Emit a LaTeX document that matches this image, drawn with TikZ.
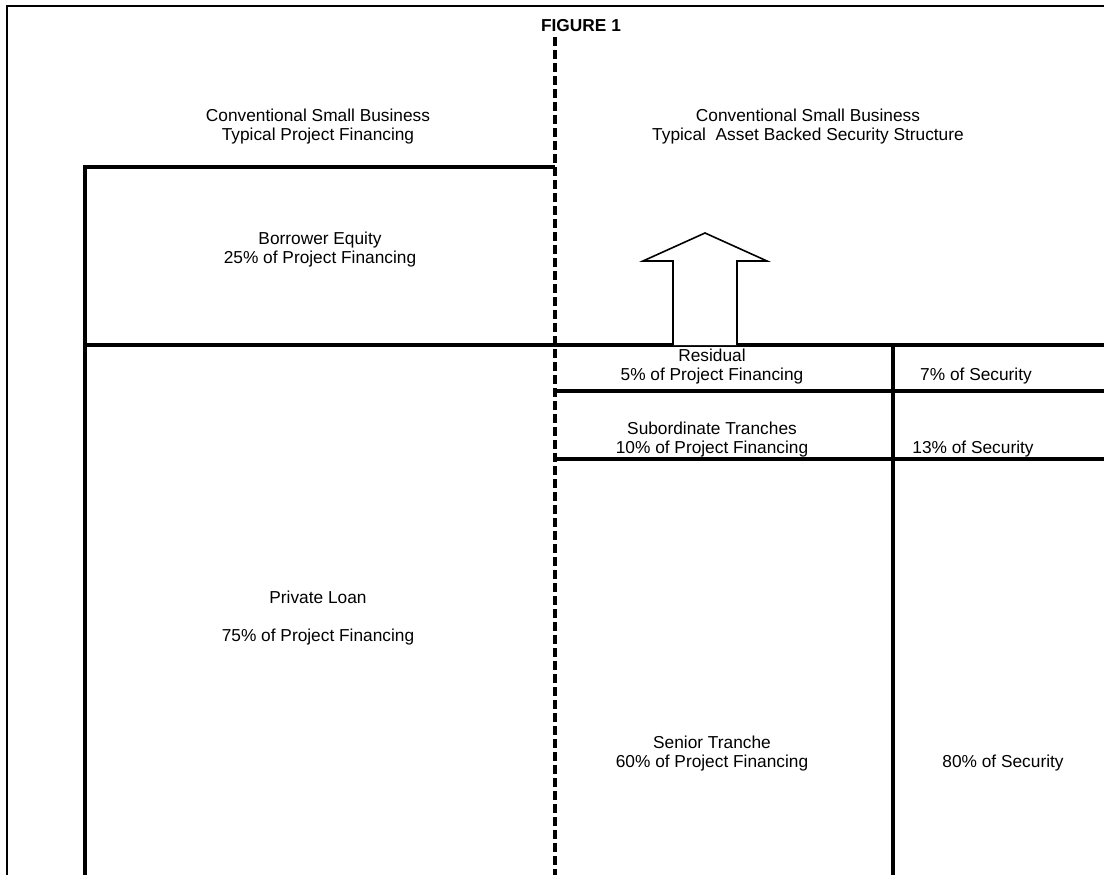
\documentclass[tikz,border=0pt]{standalone}
\usepackage{fontspec}
\setmainfont{Liberation Sans}
\usepackage{tikz}
\usetikzlibrary{positioning}
\tikzset{cell/.style={align=center,inner sep=0pt,font=\fontsize{17.3}{19}\selectfont},rule/.style={draw=black,line width=3.3pt},frame/.style={draw=black,line width=2.2pt}}

\begin{document}
\begin{tikzpicture}[x=1pt,y=-1pt,divider/.style={draw=black,line width=4pt,dash pattern=on 9pt off 4pt},bigarrow/.style={draw=black,line width=1.6pt,fill=white}]
\useasboundingbox (0,0) rectangle (1104,875);
\draw[frame] (7,875)--(7,6)--(1104,6);
\node[cell,font=\fontsize{17.3}{19}\bfseries] (fig) at (581,26) {FIGURE 1};
\draw[divider] (555,37)--(555,875);
\node[cell] (lhead) at (318,127) {Conventional Small Business\\Typical Project Financing};
\node[cell] (rhead) at (808,127) {Conventional Small Business\\Typical\ \ Asset Backed Security Structure};
\draw[rule] (85,875)--(85,167)--(555,167);
\draw[rule] (85,345)--(1104,345);
\draw[rule] (555,391)--(1104,391);
\draw[rule] (555,459)--(1104,459);
\draw[rule] (893,345)--(893,875);
\draw[bigarrow] (673,345)--(673,261)--(643,261)--(705,233)--(767,261)--(737,261)--(737,345);
\node[cell] (equity) at (320,250) {Borrower Equity\\25\% of Project Financing};
\node[cell] (loan) at (318,618) {Private Loan\\[19pt]75\% of Project Financing};
\node[cell] (resid) at (712,367) {Residual\\5\% of Project Financing};
\node[cell] (sub) at (712,440) {Subordinate Tranches\\10\% of Project Financing};
\node[cell] (senior) at (712,754) {Senior Tranche\\60\% of Project Financing};
\node[cell] (sec7) at (976,376) {7\% of Security};
\node[cell] (sec13) at (973,449) {13\% of Security};
\node[cell] (sec80) at (1003,763) {80\% of Security};
\end{tikzpicture}
\end{document}
